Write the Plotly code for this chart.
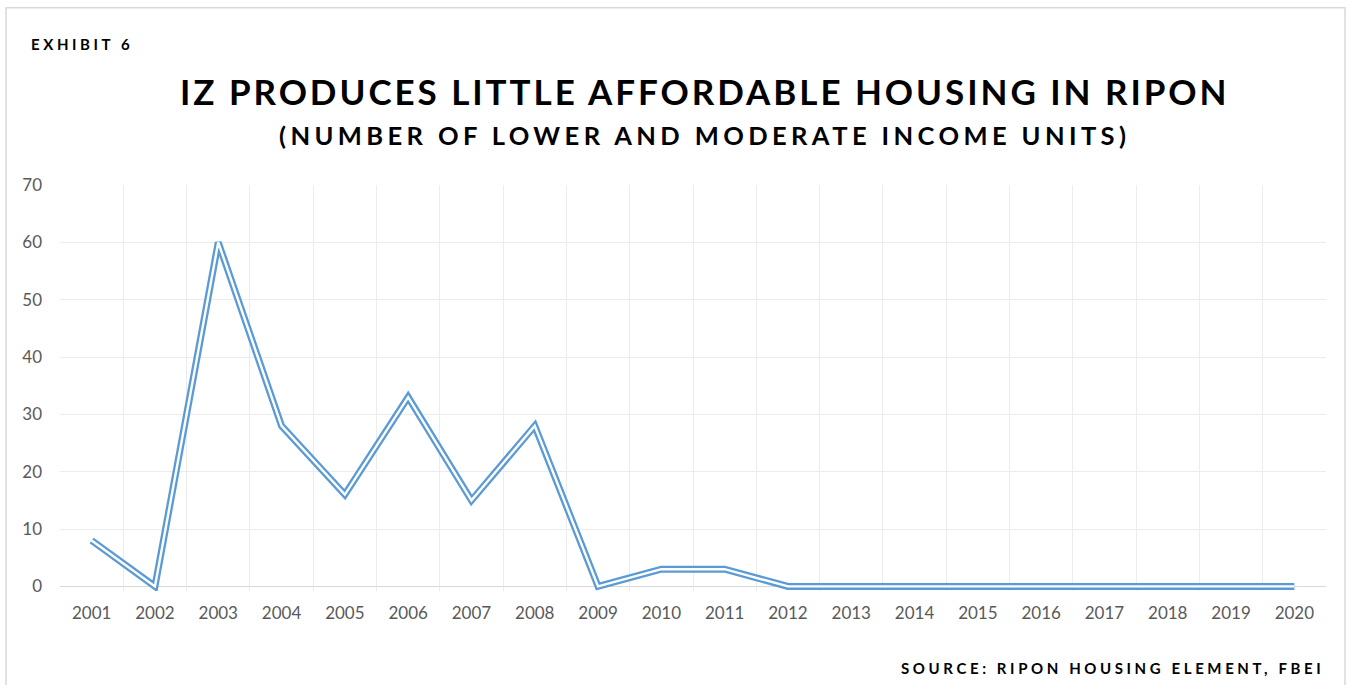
import plotly.graph_objects as go

# Lower and moderate income units produced under inclusionary zoning, by year
years = list(range(2001, 2021))
units = [8, 0, 60, 28, 16, 33, 15, 28, 0, 3, 3, 0, 0, 0, 0, 0, 0, 0, 0, 0]

y_ticks = [0, 10, 20, 30, 40, 50, 60, 70]
year_labels = [str(y) for y in years]

BLUE = "#5b9bd5"
GRID = "#ececec"
TICK_FONT = dict(family="Lato", size=17, color="#595959")

fig = go.Figure()

# Excel-style double line: a wide blue stroke with a thin white core on top
fig.add_trace(go.Scatter(
    x=years, y=units, mode="lines",
    line=dict(color=BLUE, width=7),
    hoverinfo="skip", showlegend=False,
))
fig.add_trace(go.Scatter(
    x=years, y=units, mode="lines",
    line=dict(color="white", width=2.4),
    hoverinfo="skip", showlegend=False,
))

fig.update_layout(
    width=1352, height=685,
    margin=dict(l=60, r=26, t=185, b=94.4),
    paper_bgcolor="white", plot_bgcolor="white",
    showlegend=False,
    xaxis=dict(
        range=[2000.5, 2020.5],
        tickmode="array", tickvals=years, ticktext=year_labels,
        showgrid=False, zeroline=False, showline=False,
        ticks="", tickfont=TICK_FONT, ticklabelstandoff=10,
        minor=dict(tickmode="array",
                   tickvals=[y - 0.5 for y in years] + [years[-1] + 0.5],
                   showgrid=True, gridcolor=GRID, gridwidth=1, ticks=""),
        fixedrange=True,
    ),
    yaxis=dict(
        range=[-0.8, 70],
        tickmode="array", tickvals=y_ticks,
        showgrid=True, gridcolor=GRID, gridwidth=1,
        zeroline=True, zerolinecolor="#d9d9d9", zerolinewidth=1.2,
        showline=False, ticks="", tickfont=TICK_FONT, ticklabelstandoff=17,
        fixedrange=True,
    ),
    shapes=[
        # outer chart frame
        dict(type="rect", xref="paper", yref="paper",
             x0=-54 / 1266, x1=(1345 - 60) / 1266,
             y0=-0.3, y1=(590.6 - 8) / 405.6,
             line=dict(color="#d9d9d9", width=1.5), fillcolor="rgba(0,0,0,0)",
             layer="below"),
    ],
    annotations=[
        dict(text='<span style="letter-spacing:3.6px">EXHIBIT 6</span>',
             xref="paper", yref="paper",
             x=(29 - 60) / 1266, y=(590.6 - 44) / 405.6,
             xanchor="left", yanchor="middle", showarrow=False,
             font=dict(family="Lato", size=15, color="black", weight="bold")),
        dict(text='<span style="letter-spacing:2.95px">IZ PRODUCES LITTLE AFFORDABLE HOUSING IN RIPON</span>',
             xref="paper", yref="paper",
             x=(704 - 60) / 1266, y=(590.6 - 91) / 405.6,
             xanchor="center", yanchor="middle", showarrow=False,
             font=dict(family="Lato", size=35, color="black", weight="bold")),
        dict(text='<span style="letter-spacing:4.4px">(NUMBER OF LOWER AND MODERATE INCOME UNITS)</span>',
             xref="paper", yref="paper",
             x=(704 - 60) / 1266, y=(590.6 - 135) / 405.6,
             xanchor="center", yanchor="middle", showarrow=False,
             font=dict(family="Lato", size=25.5, color="black", weight="bold")),
        dict(text='<span style="letter-spacing:3.6px">SOURCE: RIPON HOUSING ELEMENT, FBEI</span>',
             xref="paper", yref="paper",
             x=(1326 - 60) / 1266, y=(590.6 - 668) / 405.6,
             xanchor="right", yanchor="middle", showarrow=False,
             font=dict(family="Lato", size=15, color="black", weight="bold")),
    ],
)

fig.write_html("out.html")
